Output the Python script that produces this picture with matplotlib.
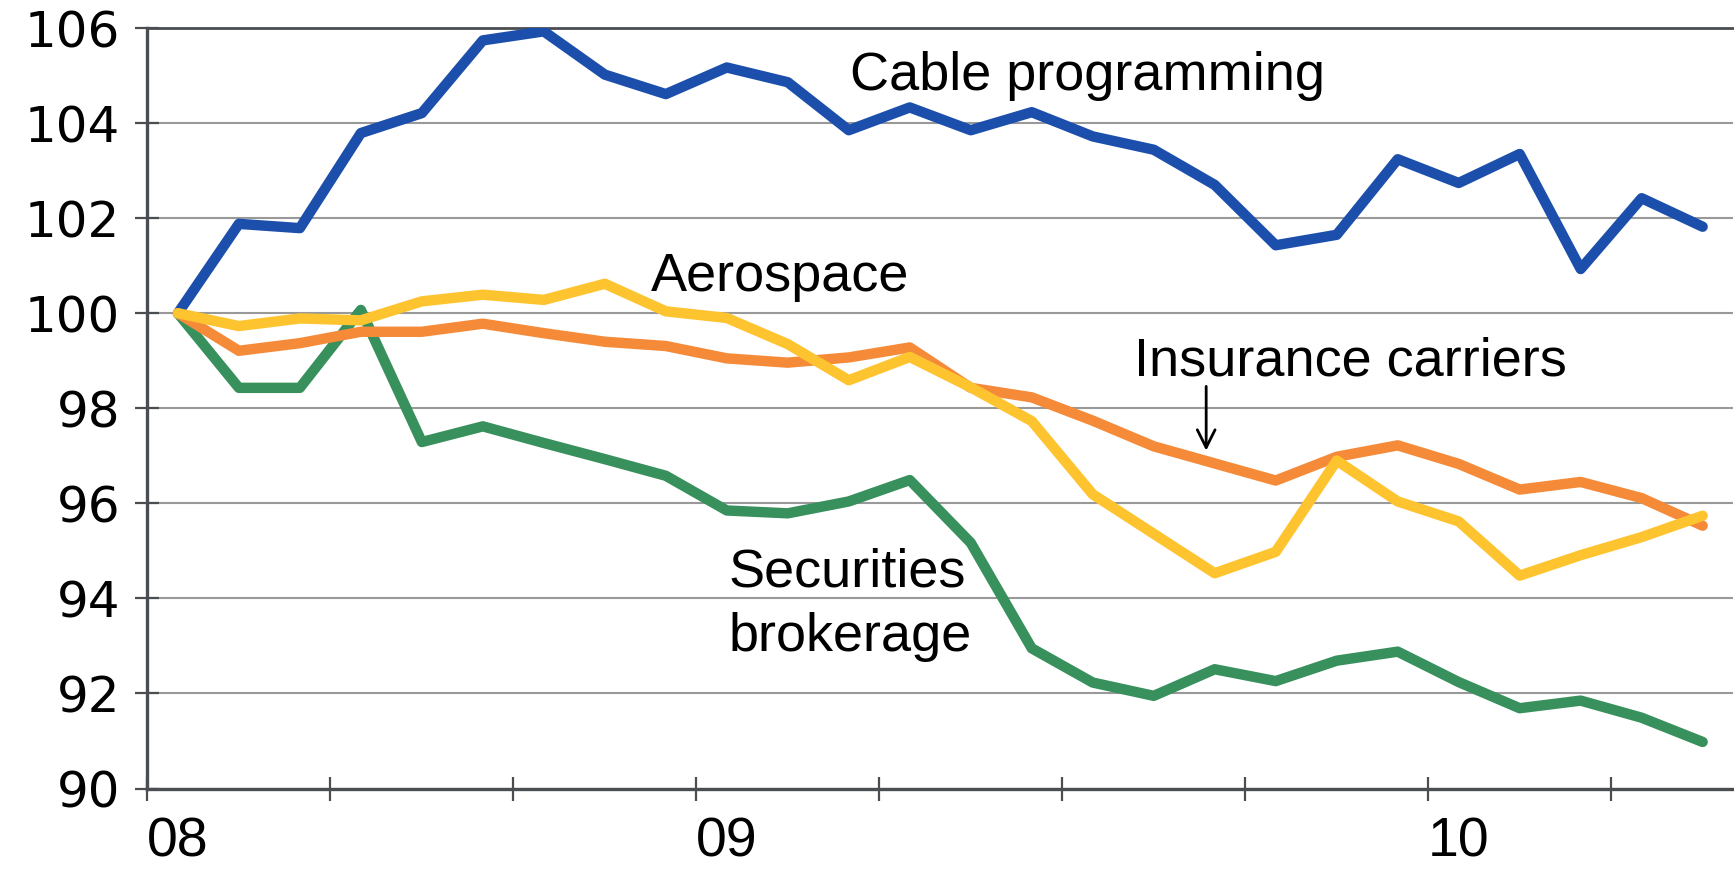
import numpy as np
import matplotlib
matplotlib.use('Agg')
from matplotlib import pyplot as plt

plt.rcParams['font.family'] = ['Liberation Sans', 'DejaVu Sans']

# monthly index values (start of period = 100)
cable = [100, 101.88, 101.79, 103.79, 104.21, 105.74, 105.93, 105.02, 104.61, 105.17,
         104.86, 103.85, 104.33, 103.85, 104.23, 103.72, 103.44, 102.70, 101.43, 101.65,
         103.24, 102.74, 103.35, 100.93, 102.42, 101.82]
aerospace = [100, 99.73, 99.89, 99.85, 100.25, 100.39, 100.28, 100.62, 100.04, 99.9,
             99.35, 98.59, 99.08, 98.44, 97.73, 96.19, 95.36, 94.53, 94.98, 96.90,
             96.04, 95.62, 94.48, 94.91, 95.29, 95.74]
insurance = [100, 99.21, 99.37, 99.61, 99.61, 99.78, 99.58, 99.40, 99.31, 99.05,
             98.96, 99.07, 99.28, 98.43, 98.23, 97.74, 97.20, 96.84, 96.48, 96.98,
             97.22, 96.83, 96.29, 96.45, 96.11, 95.53]
securities = [100, 98.43, 98.43, 100.07, 97.29, 97.62, 97.27, 96.93, 96.58, 95.85,
              95.79, 96.04, 96.49, 95.17, 92.95, 92.23, 91.95, 92.51, 92.26, 92.69,
              92.88, 92.24, 91.69, 91.85, 91.49, 90.98]
year_labels = ['08', '09', '10']
year_pos = [0, 9, 21]

x = np.arange(len(cable))

fig = plt.figure(figsize=(17.34, 8.9), dpi=100)
ax = fig.add_axes([0.085, 0.114, 0.9145, 0.8545])

lw = 7.5
ax.plot(x, cable, color='#1c4fab', lw=lw, solid_capstyle='round', zorder=3)
ax.plot(x, securities, color='#38905c', lw=lw, solid_capstyle='round', zorder=3)
ax.plot(x, insurance, color='#f58a38', lw=lw, solid_capstyle='round', zorder=4)
ax.plot(x, aerospace, color='#fec42f', lw=lw, solid_capstyle='round', zorder=5)

ax.set_xlim(-0.5, len(cable) - 0.5)
ax.set_ylim(90, 106)
ax.set_yticks(np.arange(90, 107, 2))
ax.yaxis.grid(True, color='#999999', lw=1.5)
ax.set_axisbelow(True)

ax.set_xticks(np.arange(-0.5, len(cable) - 1, 3))
ax.set_xticklabels([])
ax.set_xticks(year_pos, minor=True)
ax.set_xticklabels(year_labels, minor=True)
ax.tick_params(axis='x', which='major', direction='inout', length=17, width=1.6, color='#4a4d52')
ax.tick_params(axis='x', which='minor', length=0, pad=20, labelsize=40)
ax.tick_params(axis='y', direction='inout', length=17, width=1.6, color='#4a4d52',
               labelsize=36, pad=11)
for lab in ax.get_yticklabels():
    lab.set_family('DejaVu Sans')

for s in ['left', 'bottom', 'top']:
    ax.spines[s].set_color('#4a4d52')
    ax.spines[s].set_linewidth(2.4)
ax.spines['top'].set_linewidth(2.0)
ax.spines['right'].set_visible(False)

fs = 39
ax.text(11.02, 104.70, 'Cable programming', fontsize=fs, va='baseline', ha='left')
ax.text(7.76, 100.47, 'Aerospace', fontsize=fs, va='baseline', ha='left')
ax.text(15.67, 98.70, 'Insurance carriers', fontsize=fs, va='baseline', ha='left')
ax.text(9.03, 94.25, 'Securities', fontsize=fs, va='baseline', ha='left')
ax.text(9.03, 92.90, 'brokerage', fontsize=fs, va='baseline', ha='left')
ax.annotate('', xy=(16.86, 97.05), xytext=(16.86, 98.52),
            arrowprops=dict(arrowstyle='->', color='black', lw=2.0, mutation_scale=32))

fig.savefig('out.png', dpi=100)
